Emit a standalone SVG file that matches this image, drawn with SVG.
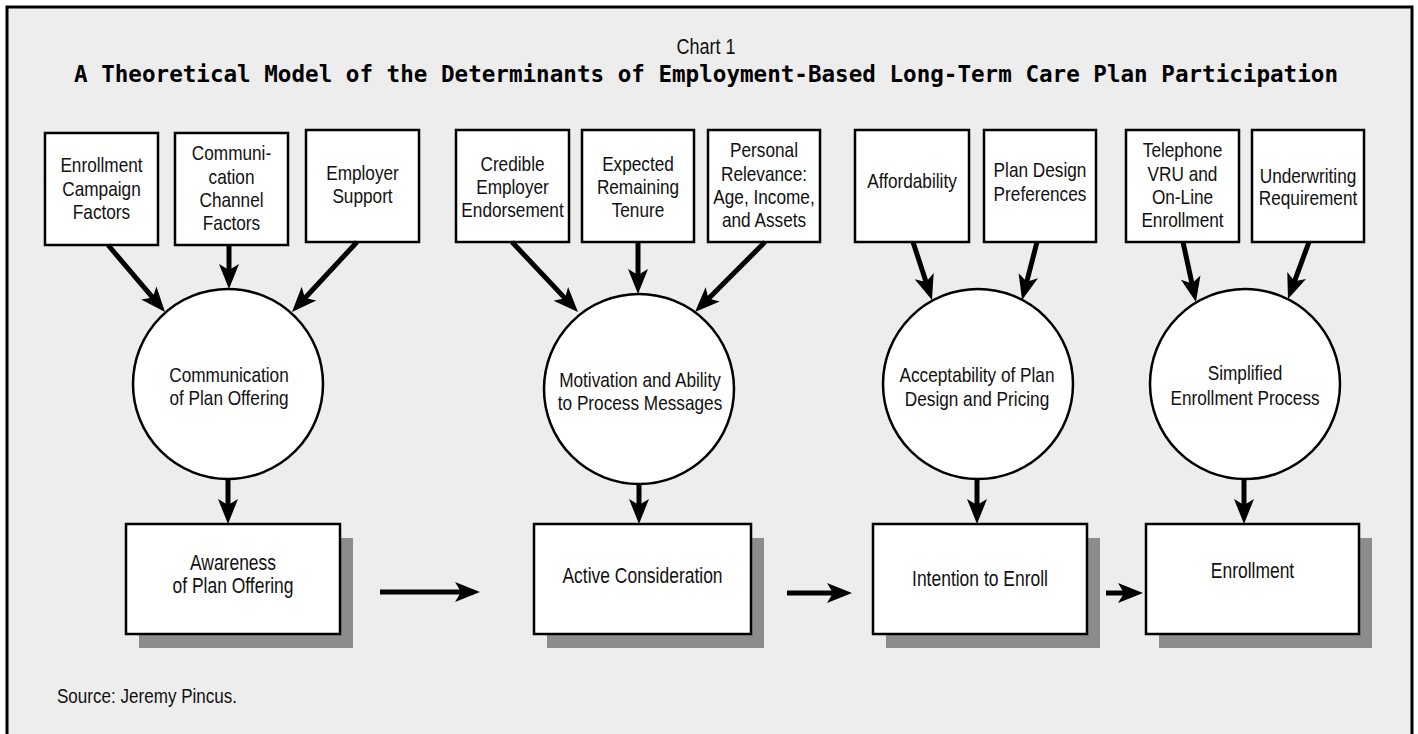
<svg xmlns="http://www.w3.org/2000/svg" width="1418" height="734" viewBox="0 0 1418 734">
<style>
.bx{fill:#fff;stroke:#000;stroke-width:2.5}
.cr{fill:#fff;stroke:#000;stroke-width:2.5}
.sh{fill:#8c8c8c}
.t{font-family:"Liberation Sans",Arial,sans-serif;font-size:21px;fill:#111;text-anchor:middle}
.tc{font-family:"Liberation Sans",Arial,sans-serif;font-size:21px;fill:#111;text-anchor:middle}
.tb{font-family:"Liberation Sans",Arial,sans-serif;font-size:21.3px;fill:#111;text-anchor:middle}
.ar{stroke:#000;stroke-width:5;fill:none;marker-end:url(#ah)}
</style>
<defs>
<marker id="ah" viewBox="-11 -11 27 22" markerWidth="27" markerHeight="22" refX="0" refY="0" orient="auto" markerUnits="userSpaceOnUse">
<path d="M15,0 L-10,-10 L-4,0 L-10,10 Z" fill="#000"/>
</marker>
</defs>
<rect x="7" y="7" width="1405" height="745" fill="#ededed" stroke="#000" stroke-width="3"/>
<g id="title">
<text transform="translate(706 0) scale(0.82 1)" x="0" y="54" font-family="'Liberation Sans',Arial,sans-serif" font-size="22" text-anchor="middle" fill="#111">Chart 1</text>
<text x="74" y="82" font-family="'DejaVu Sans Mono',monospace" font-weight="bold" font-size="23" textLength="1264" lengthAdjust="spacingAndGlyphs" fill="#000">A Theoretical Model of the Determinants of Employment-Based Long-Term Care Plan Participation</text>
</g>
<g id="n-enrollment-campaign"><rect class="bx" x="45" y="133" width="113" height="112"/><text class="t" transform="translate(101.5 0) scale(0.82 1)"><tspan x="0" y="172">Enrollment</tspan><tspan x="0" y="196">Campaign</tspan><tspan x="0" y="219">Factors</tspan></text></g>
<g id="n-communication-channel"><rect class="bx" x="175" y="133" width="113" height="112"/><text class="t" transform="translate(231.5 0) scale(0.82 1)"><tspan x="0" y="160">Communi-</tspan><tspan x="0" y="184">cation</tspan><tspan x="0" y="207">Channel</tspan><tspan x="0" y="230">Factors</tspan></text></g>
<g id="n-employer-support"><rect class="bx" x="306" y="130" width="113" height="112"/><text class="t" transform="translate(362.5 0) scale(0.82 1)"><tspan x="0" y="180">Employer</tspan><tspan x="0" y="203">Support</tspan></text></g>
<g id="n-credible"><rect class="bx" x="456" y="130" width="113" height="112"/><text class="t" transform="translate(512.5 0) scale(0.82 1)"><tspan x="0" y="171">Credible</tspan><tspan x="0" y="194">Employer</tspan><tspan x="0" y="217">Endorsement</tspan></text></g>
<g id="n-tenure"><rect class="bx" x="582" y="130" width="112" height="112"/><text class="t" transform="translate(638 0) scale(0.82 1)"><tspan x="0" y="171">Expected</tspan><tspan x="0" y="194">Remaining</tspan><tspan x="0" y="217">Tenure</tspan></text></g>
<g id="n-personal"><rect class="bx" x="708" y="130" width="112" height="112"/><text class="t" transform="translate(764 0) scale(0.82 1)"><tspan x="0" y="157">Personal</tspan><tspan x="0" y="181">Relevance:</tspan><tspan x="0" y="204">Age, Income,</tspan><tspan x="0" y="227">and Assets</tspan></text></g>
<g id="n-affordability"><rect class="bx" x="855" y="130" width="114" height="112"/><text class="t" transform="translate(912 0) scale(0.82 1)"><tspan x="0" y="188">Affordability</tspan></text></g>
<g id="n-plan-design"><rect class="bx" x="984" y="130" width="112" height="112"/><text class="t" transform="translate(1040 0) scale(0.82 1)"><tspan x="0" y="177">Plan Design</tspan><tspan x="0" y="201">Preferences</tspan></text></g>
<g id="n-telephone"><rect class="bx" x="1126" y="130" width="113" height="112"/><text class="t" transform="translate(1182.5 0) scale(0.82 1)"><tspan x="0" y="157">Telephone</tspan><tspan x="0" y="181">VRU and</tspan><tspan x="0" y="204">On-Line</tspan><tspan x="0" y="227">Enrollment</tspan></text></g>
<g id="n-underwriting"><rect class="bx" x="1252" y="130" width="112" height="112"/><text class="t" transform="translate(1308 0) scale(0.82 1)"><tspan x="0" y="183">Underwriting</tspan><tspan x="0" y="205">Requirement</tspan></text></g>
<g id="n-communication"><circle class="cr" cx="228" cy="384" r="95"/><text class="tc" transform="translate(229 0) scale(0.82 1)"><tspan x="0" y="382">Communication</tspan><tspan x="0" y="405">of Plan Offering</tspan></text></g>
<g id="n-motivation"><circle class="cr" cx="639" cy="389" r="95"/><text class="tc" transform="translate(640 0) scale(0.82 1)"><tspan x="0" y="387">Motivation and Ability</tspan><tspan x="0" y="410">to Process Messages</tspan></text></g>
<g id="n-acceptability"><circle class="cr" cx="978" cy="384" r="95"/><text class="tc" transform="translate(977 0) scale(0.82 1)"><tspan x="0" y="382">Acceptability of Plan</tspan><tspan x="0" y="406">Design and Pricing</tspan></text></g>
<g id="n-simplified"><circle class="cr" cx="1245" cy="384" r="95"/><text class="tc" transform="translate(1245 0) scale(0.82 1)"><tspan x="0" y="380">Simplified</tspan><tspan x="0" y="405">Enrollment Process</tspan></text></g>
<g id="n-awareness"><rect class="sh" x="139" y="538" width="214" height="110"/><rect class="bx" x="126" y="524" width="214" height="110"/><text class="tb" transform="translate(233 0) scale(0.82 1)"><tspan x="0" y="570">Awareness</tspan><tspan x="0" y="593">of Plan Offering</tspan></text></g>
<g id="n-active"><rect class="sh" x="547" y="538" width="217" height="110"/><rect class="bx" x="534" y="524" width="217" height="110"/><text class="tb" transform="translate(642.5 0) scale(0.82 1)"><tspan x="0" y="583">Active Consideration</tspan></text></g>
<g id="n-intention"><rect class="sh" x="886" y="538" width="214" height="110"/><rect class="bx" x="873" y="524" width="214" height="110"/><text class="tb" transform="translate(980 0) scale(0.82 1)"><tspan x="0" y="586">Intention to Enroll</tspan></text></g>
<g id="n-enrollment"><rect class="sh" x="1159" y="538" width="213" height="110"/><rect class="bx" x="1146" y="524" width="213" height="110"/><text class="tb" transform="translate(1252.5 0) scale(0.82 1)"><tspan x="0" y="578">Enrollment</tspan></text></g>
<g id="connectors">
<line class="ar" x1="108" y1="245" x2="155.3" y2="300.6"/>
<line class="ar" x1="229" y1="245" x2="229" y2="274"/>
<line class="ar" x1="357" y1="242" x2="302.2" y2="301"/>
<line class="ar" x1="228" y1="479" x2="228" y2="509"/>
<line class="ar" x1="512" y1="242" x2="567.7" y2="301.1"/>
<line class="ar" x1="638" y1="242" x2="638" y2="279"/>
<line class="ar" x1="765" y1="242" x2="705.6" y2="301.4"/>
<line class="ar" x1="639" y1="484" x2="639" y2="509"/>
<line class="ar" x1="913" y1="242" x2="927.3" y2="285.7"/>
<line class="ar" x1="1037" y1="242" x2="1025.8" y2="285.5"/>
<line class="ar" x1="977" y1="479" x2="977" y2="509"/>
<line class="ar" x1="1183" y1="242" x2="1192.8" y2="287.3"/>
<line class="ar" x1="1309" y1="242" x2="1293.2" y2="284.9"/>
<line class="ar" x1="1244" y1="479" x2="1244" y2="509"/>
<line class="ar" x1="380" y1="592" x2="465" y2="592"/>
<line class="ar" x1="787" y1="593" x2="837" y2="593"/>
<line class="ar" x1="1106" y1="593" x2="1128" y2="593"/>
</g>
<g id="source"><text transform="translate(57 0) scale(0.82 1)" x="0" y="703" font-family="'Liberation Sans',Arial,sans-serif" font-size="20.8" fill="#111">Source: Jeremy Pincus.</text></g>
</svg>
